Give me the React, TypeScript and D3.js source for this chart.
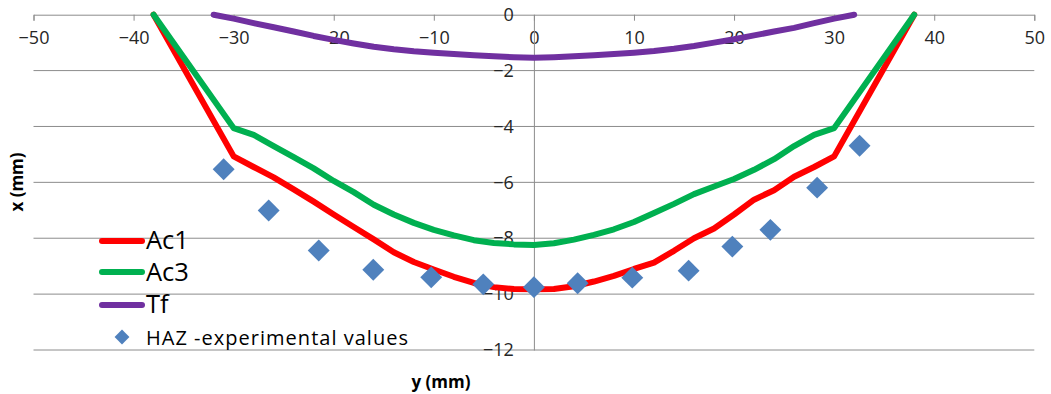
import React, { useRef, useEffect } from "react";
import * as d3 from "d3";

// Ac1 curve
const ac1X = [-38, -30, -28, -26, -24, -22, -20, -18, -16, -14, -12, -10, -8, -6, -4, -2, 0, 2, 4, 6, 8, 10, 12, 14, 16, 18, 20, 22, 24, 26, 28, 30, 38];
const ac1Y = [0, -5.07, -5.45, -5.82, -6.25, -6.69, -7.15, -7.6, -8.04, -8.5, -8.85, -9.12, -9.38, -9.6, -9.75, -9.82, -9.83, -9.82, -9.72, -9.55, -9.35, -9.1, -8.87, -8.45, -8.0, -7.65, -7.15, -6.62, -6.28, -5.8, -5.45, -5.07, 0];

// Ac3 curve
const ac3X = [-38, -30, -28, -26, -24, -22, -20, -18, -16, -14, -12, -10, -8, -6, -4, -2, 0, 2, 4, 6, 8, 10, 12, 14, 16, 18, 20, 22, 24, 26, 28, 30, 38];
const ac3Y = [0, -4.06, -4.3, -4.7, -5.1, -5.5, -5.95, -6.35, -6.8, -7.15, -7.45, -7.7, -7.9, -8.07, -8.17, -8.22, -8.24, -8.18, -8.05, -7.88, -7.68, -7.42, -7.1, -6.77, -6.42, -6.15, -5.88, -5.55, -5.17, -4.7, -4.3, -4.06, 0];

// Tf curve
const tfX = [-32, -30, -28, -26, -24, -22, -20, -18, -16, -14, -12, -10, -8, -6, -4, -2, 0, 2, 4, 6, 8, 10, 12, 14, 16, 18, 20, 22, 24, 26, 28, 30, 32];
const tfY = [0, -0.14, -0.3, -0.45, -0.6, -0.76, -0.9, -1.03, -1.15, -1.24, -1.31, -1.36, -1.41, -1.45, -1.49, -1.52, -1.54, -1.52, -1.49, -1.45, -1.41, -1.36, -1.3, -1.22, -1.12, -1.0, -0.88, -0.74, -0.6, -0.47, -0.3, -0.14, 0];

// HAZ experimental values
const hazX = [-31.0, -26.5, -21.5, -16.05, -10.26, -5.06, 0, 4.37, 9.83, 15.46, 19.83, 23.63, 28.3, 32.54];
const hazY = [-5.53, -7.01, -8.44, -9.13, -9.4, -9.65, -9.75, -9.61, -9.41, -9.16, -8.3, -7.7, -6.19, -4.69];

const xTicks = [-50, -40, -30, -20, -10, 0, 10, 20, 30, 40, 50];
const yTicks = [0, -2, -4, -6, -8, -10, -12];

const seriesNames = ["Ac1", "Ac3", "Tf", "HAZ -experimental values"];
const seriesColors = ["#ff0000", "#00b050", "#7030a0", "#4f81bd"];

const FONT = "'Open Sans', 'Liberation Sans', sans-serif";

function Chart() {
  const svgRef = useRef(null);

  useEffect(() => {
    const width = 1051,
      height = 394;
    const left = 33.5,
      right = 1034.3,
      top = 14.7,
      bottom = 350;

    const svg = d3.select(svgRef.current);
    svg.selectAll("*").remove();
    svg.attr("width", width).attr("height", height);

    const x = d3.scaleLinear().domain([-50, 50]).range([left, right]);
    const y = d3.scaleLinear().domain([-12, 0]).range([bottom, top]);

    // horizontal gridlines
    svg
      .append("g")
      .selectAll("line")
      .data(yTicks.filter((d) => d !== 0))
      .join("line")
      .attr("x1", left)
      .attr("x2", right)
      .attr("y1", (d) => y(d))
      .attr("y2", (d) => y(d))
      .attr("stroke", "#8c8c8c")
      .attr("stroke-width", 1);

    // x axis at y = 0, ticks below
    const xAxis = d3.axisBottom(x).tickValues(xTicks).tickSize(6).tickPadding(11).tickFormat(d3.format("d"));
    const gx = svg.append("g").attr("transform", `translate(0,${y(0)})`).call(xAxis);
    gx.select(".domain").attr("stroke", "#8c8c8c");
    gx.selectAll(".tick line").attr("stroke", "#8c8c8c");
    gx.selectAll(".tick text")
      .attr("font-family", FONT)
      .attr("font-size", 18)
      .attr("fill", "#262626");

    // y axis at x = 0, labels on the left
    const yAxis = d3.axisLeft(y).tickValues(yTicks).tickSize(0).tickPadding(20).tickFormat(d3.format("d"));
    const gy = svg.append("g").attr("transform", `translate(${x(0)},0)`).call(yAxis);
    gy.select(".domain").attr("stroke", "#8c8c8c");
    gy.selectAll(".tick text")
      .attr("font-family", FONT)
      .attr("font-size", 18)
      .attr("fill", "#262626");

    const line = d3
      .line()
      .x((d) => x(d[0]))
      .y((d) => y(d[1]));

    const lines = [
      [ac1X, ac1Y],
      [ac3X, ac3Y],
      [tfX, tfY],
    ];

    lines.forEach(([xs, ys], i) => {
      svg
        .append("path")
        .datum(xs.map((v, j) => [v, ys[j]]))
        .attr("d", line)
        .attr("fill", "none")
        .attr("stroke", seriesColors[i])
        .attr("stroke-width", 6)
        .attr("stroke-linejoin", "round")
        .attr("stroke-linecap", "round");
    });

    const diamond = d3.symbol().type(d3.symbolSquare).size(240);
    svg
      .append("g")
      .selectAll("path")
      .data(hazX.map((v, j) => [v, hazY[j]]))
      .join("path")
      .attr("d", diamond)
      .attr("transform", (d) => `translate(${x(d[0])},${y(d[1])}) rotate(45)`)
      .attr("fill", seriesColors[3]);

    // legend
    const legendLineY = [241, 272, 305];
    const legendTextY = [249, 281, 313];
    const legend = svg.append("g");
    legendLineY.forEach((ly, i) => {
      legend
        .append("line")
        .attr("x1", 102)
        .attr("x2", 142)
        .attr("y1", ly)
        .attr("y2", ly)
        .attr("stroke", seriesColors[i])
        .attr("stroke-width", 6)
        .attr("stroke-linecap", "round");
      legend
        .append("text")
        .attr("x", 146)
        .attr("y", legendTextY[i])
        .attr("font-family", FONT)
        .attr("font-size", 25.5)
        .attr("fill", "#000")
        .text(seriesNames[i]);
    });
    legend
      .append("path")
      .attr("d", d3.symbol().type(d3.symbolSquare).size(110)())
      .attr("transform", "translate(122,337) rotate(45)")
      .attr("fill", seriesColors[3]);
    legend
      .append("text")
      .attr("x", 146)
      .attr("y", 345)
      .attr("font-family", FONT)
      .attr("font-size", 20)
      .attr("textLength", 262)
      .attr("fill", "#000")
      .text(seriesNames[3]);

    // axis titles
    svg
      .append("text")
      .attr("x", 441)
      .attr("y", 388)
      .attr("text-anchor", "middle")
      .attr("font-family", FONT)
      .attr("font-weight", "bold")
      .attr("font-size", 17)
      .attr("fill", "#000")
      .text("y (mm)");

    svg
      .append("text")
      .attr("transform", "translate(23,182) rotate(-90)")
      .attr("text-anchor", "middle")
      .attr("font-family", FONT)
      .attr("font-weight", "bold")
      .attr("font-size", 17)
      .attr("fill", "#000")
      .text("x (mm)");
  }, []);

  return <svg ref={svgRef} style={{ position: "absolute", left: 0, top: 0, background: "#fff" }}></svg>;
}

export default function App() {
  return <Chart />;
}
